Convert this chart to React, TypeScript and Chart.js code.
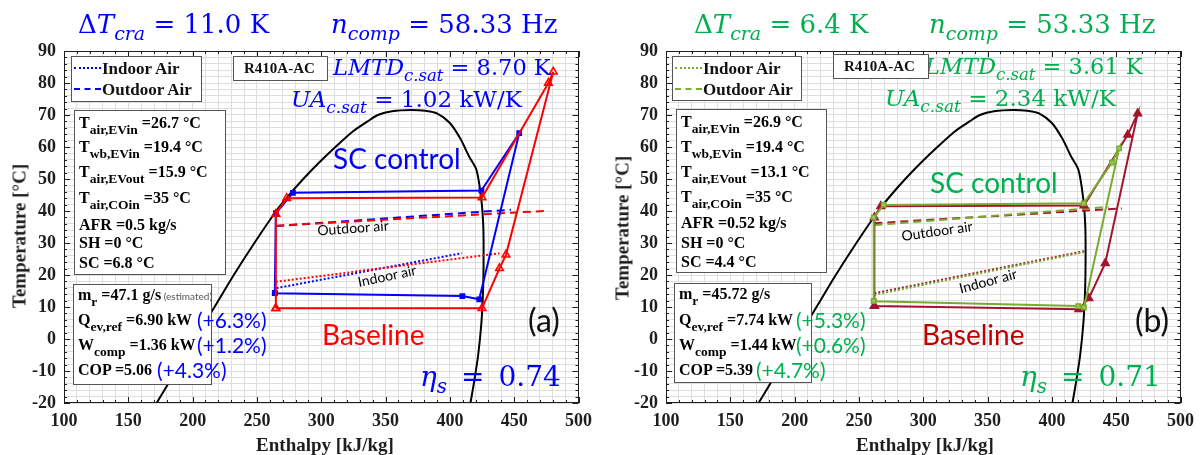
import React, { useEffect, useRef } from 'react';
import { Chart, registerables } from 'chart.js';

Chart.register(...registerables);

// ---------- axes ----------
const H_MIN = 100;
const H_MAX = 500;
const T_MIN = -20;
const T_MAX = 90;
const X_MAJOR = 50;
const Y_MAJOR = 10;
const X_MINOR = 10;
const Y_MINOR = 2;
const xTickLabels = [100, 150, 200, 250, 300, 350, 400, 450, 500];
const yTickLabels = [-20, -10, 0, 10, 20, 30, 40, 50, 60, 70, 80, 90];
const xTitle = 'Enthalpy [kJ/kg]';
const yTitle = 'Temperature [°C]';

// ---------- R410A saturation dome ----------
const domeH = [172, 187, 202, 217, 232, 248, 265, 275, 286, 298, 311, 325, 336, 344, 355, 370, 381, 390, 400, 408, 415, 420.7, 424.5, 426, 426.2, 425.8, 424.5, 422, 419, 416];
const domeT = [-20, -10, 0, 10, 20, 30, 40, 45, 50, 55, 60, 65, 68, 70, 71.2, 71.6, 71.3, 70.5, 67.5, 62.7, 57, 52.8, 43.4, 35, 25, 15, 5, -5, -13, -20];

// ---------- panel (a) ----------
const aBaseH = [264.7, 425, 438.6, 443.6, 480.4, 476.6, 425, 273.1, 264.7, 264.7];
const aBaseT = [9.6, 9.6, 22.1, 26.3, 83.5, 80, 44.2, 44, 39.1, 9.6];
const aScH = [263.9, 409.7, 422.8, 453.9, 424.5, 278, 264.7, 263.9];
const aScT = [14.3, 13.4, 12.4, 64.3, 46.4, 45.7, 39.3, 14.3];
const aOutBaseH = [265, 477];
const aOutBaseT = [35.4, 40.1];
const aOutScH = [265, 447.5];
const aOutScT = [35.3, 40.4];
const aInBaseH = [264.7, 438.6];
const aInBaseT = [17.9, 26.8];
const aInScH = [265.2, 409.2];
const aInScT = [15.9, 26.8];

// ---------- panel (b) ----------
const bBaseH = [262, 421, 428.7, 441.5, 466.7, 459, 425, 267, 262, 262];
const bBaseT = [10.3, 9.3, 12.7, 23.7, 70.5, 63.8, 41.7, 41.5, 38, 10.3];
const bScH = [261.5, 420.5, 425, 452.3, 446.7, 424.8, 269.2, 261.5, 261.5];
const bScT = [11.8, 10.3, 9.9, 59.6, 55.1, 42.4, 41.9, 38, 11.8];
const bOutBaseH = [262, 454.4];
const bOutBaseT = [36.2, 40.8];
const bOutScH = [262, 444.1];
const bOutScT = [35.6, 41.3];
const bInBaseH = [262, 425.6];
const bInBaseT = [14.3, 27.5];
const bInScH = [262, 425.6];
const bInScT = [13.8, 27.2];

// ---------- styles ----------
const BLUE = '#0000ff';
const RED = '#ff0000';
const GREEN_L = '#77ac30';
const DRED_L = '#a2142f';
const GREEN_T = '#00b050';
const DRED_T = '#c00000';
const AXIS_C = '#1e1e1e';
const GRID_C = '#dedede';

const FAM: Record<string, string> = {
  serif: '"Liberation Serif", "Times New Roman", serif',
  math: '"DejaVu Serif", serif',
  sans: 'Lato, "Open Sans", sans-serif',
};
const ASC: Record<string, number> = { serif: 0.8375, math: 0.846, sans: 0.887 };

const pts = (hs: number[], ts: number[]) => hs.map((h, i) => ({ x: h, y: ts[i] }));

const framePlugin = {
  id: 'frameTicks',
  afterDraw(chart: any) {
    const { ctx, chartArea: a } = chart;
    const xs = chart.scales.x;
    const ys = chart.scales.y;
    ctx.save();
    ctx.strokeStyle = AXIS_C;
    ctx.lineWidth = 1;
    ctx.beginPath();
    for (let v = H_MIN; v <= H_MAX + 1e-9; v += X_MINOR) {
      const px = Math.round(xs.getPixelForValue(v)) + 0.5;
      const len = (v - H_MIN) % X_MAJOR === 0 ? 6 : 3;
      ctx.moveTo(px, a.bottom);
      ctx.lineTo(px, a.bottom - len);
      ctx.moveTo(px, a.top);
      ctx.lineTo(px, a.top + len);
    }
    for (let v = T_MIN; v <= T_MAX + 1e-9; v += Y_MINOR) {
      const py = Math.round(ys.getPixelForValue(v)) + 0.5;
      const len = (v - T_MIN) % Y_MAJOR === 0 ? 6 : 3;
      ctx.moveTo(a.left, py);
      ctx.lineTo(a.left + len, py);
      ctx.moveTo(a.right, py);
      ctx.lineTo(a.right - len, py);
    }
    ctx.stroke();
    ctx.strokeRect(Math.round(a.left) + 0.5, Math.round(a.top) + 0.5, Math.round(a.right - a.left) - 1, Math.round(a.bottom - a.top) - 1);
    ctx.restore();
  },
};

function lineDs(data: any[], color: string, dash: number[], width = 2) {
  return { data, showLine: true, borderColor: color, borderWidth: width, borderDash: dash, pointRadius: 0, fill: false };
}
function cycleDs(data: any[], color: string, style: string, radius: number, bg: string) {
  return {
    data, showLine: true, borderColor: color, borderWidth: 2, pointStyle: style, pointRadius: radius,
    pointBackgroundColor: bg, pointBorderColor: color, pointBorderWidth: 1.5, fill: false,
  };
}

function buildConfig(datasets: any[], yWidth: number, padRight: number) {
  const tickFont = { family: FAM.serif, size: 18, weight: 'bold' as const };
  return {
    type: 'scatter' as const,
    data: { datasets },
    options: {
      responsive: false,
      maintainAspectRatio: false,
      animation: false as const,
      layout: { padding: { left: 0, right: padRight, top: 51, bottom: 0 } },
      plugins: { legend: { display: false }, tooltip: { enabled: false } },
      scales: {
        x: {
          type: 'linear' as const, min: H_MIN, max: H_MAX,
          afterFit: (s: any) => { s.height = 52; },
          ticks: {
            stepSize: X_MINOR, autoSkip: false, maxRotation: 0, minRotation: 0, maxTicksLimit: 1000, padding: 8,
            font: tickFont, color: AXIS_C,
            callback: (v: number) => (xTickLabels.includes(Math.round(v)) && Math.abs(v - Math.round(v)) < 1e-6 ? String(Math.round(v)) : ''),
          },
          grid: { color: GRID_C, drawTicks: false },
          border: { display: false },
          title: { display: false },
        },
        y: {
          type: 'linear' as const, min: T_MIN, max: T_MAX,
          afterFit: (s: any) => { s.width = yWidth; },
          ticks: {
            stepSize: Y_MINOR, autoSkip: false, maxTicksLimit: 1000, padding: 8,
            font: tickFont, color: AXIS_C,
            callback: (v: number) => (yTickLabels.includes(Math.round(v)) && Math.abs(v - Math.round(v)) < 1e-6 ? String(Math.round(v)) : ''),
          },
          grid: { color: GRID_C, drawTicks: false },
          border: { display: false },
          title: { display: false },
        },
      },
    },
    plugins: [framePlugin],
  };
}

function ChartCanvas({ left, width, datasets, yWidth, padRight }: any) {
  const ref = useRef<HTMLCanvasElement>(null);
  useEffect(() => {
    const chart = new Chart(ref.current as HTMLCanvasElement, buildConfig(datasets, yWidth, padRight) as any);
    return () => chart.destroy();
  }, []);
  return (
    <canvas ref={ref} width={width} height={455}
      style={{ position: 'absolute', left, top: 0, width, height: 455 }} />
  );
}

function Tx({ x, base, size, fam, color = '#000', bold = false, children }: any) {
  return (
    <div style={{
      position: 'absolute', left: x, top: base - size * ASC[fam], fontFamily: FAM[fam], fontSize: size,
      lineHeight: `${size}px`, fontWeight: bold ? 'bold' : 'normal', color, whiteSpace: 'nowrap',
    }}>{children}</div>
  );
}
function Sb({ size, drop, italic = false, children }: any) {
  return <span style={{ fontSize: size, verticalAlign: `-${drop}px`, fontStyle: italic ? 'italic' : 'normal', lineHeight: '0px' }}>{children}</span>;
}
function Rot({ cx, cy, deg, size = 14, fam = 'sans', bold = false, color = '#000', children }: any) {
  return (
    <div style={{
      position: 'absolute', left: cx, top: cy, transform: `translate(-50%, -50%) rotate(${deg}deg)`,
      fontFamily: FAM[fam], fontSize: size, fontWeight: bold ? 'bold' : 'normal', color, whiteSpace: 'nowrap', lineHeight: `${size}px`,
    }}>{children}</div>
  );
}
function Box({ x, y, w, h, children }: any) {
  return <div style={{ position: 'absolute', left: x, top: y, width: w, height: h, border: '1px solid #555', background: '#fff', boxSizing: 'border-box' }}>{children}</div>;
}

function Legend({ x, y, w, h, color }: any) {
  return (
    <>
      <Box x={x} y={y} w={w} h={h} />
      <div style={{ position: 'absolute', left: x + 3, top: y + 11, width: 27, borderTop: `2px dotted ${color}` }} />
      <div style={{ position: 'absolute', left: x + 3, top: y + 32, width: 27, borderTop: `2px dashed ${color}` }} />
      <Tx x={x + 31} base={y + 18} size={17} fam="serif" bold color="#111">Indoor Air</Tx>
      <Tx x={x + 31} base={y + 39} size={17} fam="serif" bold color="#111">Outdoor Air</Tx>
    </>
  );
}

function InfoBox({ x, y, w, h, bases, vals }: any) {
  const lx = x + 5;
  const sub = (t: string) => <Sb size={13.5} drop={6}>{t}</Sb>;
  return (
    <>
      <Box x={x} y={y} w={w} h={h} />
      <Tx x={lx} base={bases[0]} size={16} fam="serif" bold>T{sub('air,EVin')} ={vals[0]} °C</Tx>
      <Tx x={lx} base={bases[1]} size={16} fam="serif" bold>T{sub('wb,EVin')} ={vals[1]} °C</Tx>
      <Tx x={lx} base={bases[2]} size={16} fam="serif" bold>T{sub('air,EVout')} ={vals[2]} °C</Tx>
      <Tx x={lx} base={bases[3]} size={16} fam="serif" bold>T{sub('air,COin')} ={vals[3]} °C</Tx>
      <Tx x={lx} base={bases[4]} size={16} fam="serif" bold>AFR ={vals[4]} kg/s</Tx>
      <Tx x={lx} base={bases[5]} size={16} fam="serif" bold>SH ={vals[5]} °C</Tx>
      <Tx x={lx} base={bases[6]} size={16} fam="serif" bold>SC ={vals[6]} °C</Tx>
    </>
  );
}

function ResultBox({ x, y, w, h, bases, vals, est }: any) {
  const lx = x + 5;
  const sub = (t: string) => <Sb size={13.5} drop={6}>{t}</Sb>;
  return (
    <>
      <Box x={x} y={y} w={w} h={h} />
      <Tx x={lx} base={bases[0]} size={16} fam="serif" bold>m{sub('r')} ={vals[0]} g/s{est ? <span style={{ fontFamily: FAM.sans, fontWeight: 'normal', fontSize: 10, color: '#555' }}> (estimated)</span> : null}</Tx>
      <Tx x={lx} base={bases[1]} size={16} fam="serif" bold>Q{sub('ev,ref')} ={vals[1]} kW</Tx>
      <Tx x={lx} base={bases[2]} size={16} fam="serif" bold>W{sub('comp')} ={vals[2]} kW</Tx>
      <Tx x={lx} base={bases[3]} size={16} fam="serif" bold>COP ={vals[3]}</Tx>
    </>
  );
}

function MathHeader({ x, base, size, color, children }: any) {
  return <Tx x={x} base={base} size={size} fam="math" color={color}>{children}</Tx>;
}
const MS = ({ children, size }: any) => <Sb size={size} drop={Math.round(size * 0.35)} italic>{children}</Sb>;

export default function App() {
  const dsA = [
    cycleDs(pts(aBaseH, aBaseT), RED, 'triangle', 4.5, 'rgba(255,255,255,0)'),
    cycleDs(pts(aScH, aScT), BLUE, 'rect', 3, BLUE),
    lineDs(pts(aOutBaseH, aOutBaseT), RED, [8, 5]),
    lineDs(pts(aOutScH, aOutScT), BLUE, [8, 5]),
    lineDs(pts(aInBaseH, aInBaseT), RED, [2, 2]),
    lineDs(pts(aInScH, aInScT), BLUE, [2, 2]),
    { ...lineDs(pts(domeH, domeT), '#000', []), tension: 0.3 },
  ];
  const dsB = [
    cycleDs(pts(bScH, bScT), GREEN_L, 'rect', 3, '#9ccc5a'),
    cycleDs(pts(bBaseH, bBaseT), DRED_L, 'triangle', 4.5, DRED_L),
    lineDs(pts(bOutScH, bOutScT), GREEN_L, [8, 5]),
    lineDs(pts(bOutBaseH, bOutBaseT), DRED_L, [8, 5]),
    lineDs(pts(bInScH, bInScT), GREEN_L, [2, 2]),
    lineDs(pts(bInBaseH, bInBaseT), DRED_L, [2, 2]),
    { ...lineDs(pts(domeH, domeT), '#000', []), tension: 0.3 },
  ];

  return (
    <div style={{ position: 'absolute', left: 0, top: 0, width: 1202, height: 455, background: '#fff', overflow: 'hidden' }}>
      <ChartCanvas left={0} width={600} datasets={dsA} yWidth={64} padRight={13} />
      <ChartCanvas left={600} width={602} datasets={dsB} yWidth={66} padRight={15} />

      {/* axis titles */}
      <Rot cx={325} cy={444} deg={0} size={19} fam="serif" bold color={AXIS_C}>{xTitle}</Rot>
      <Rot cx={19} cy={236} deg={-90} size={19} fam="serif" bold color={AXIS_C}>{yTitle}</Rot>
      <Rot cx={925} cy={444} deg={0} size={19} fam="serif" bold color={AXIS_C}>{xTitle}</Rot>
      <Rot cx={622} cy={228} deg={-90} size={19} fam="serif" bold color={AXIS_C}>{yTitle}</Rot>

      {/* ---------- panel (a) overlays ---------- */}
      <MathHeader x={78} base={33} size={26} color={BLUE}>Δ<i>T</i><MS size={19}>cra</MS> = 11.0 K</MathHeader>
      <MathHeader x={331} base={33} size={26} color={BLUE}><i>n</i><MS size={19}>comp</MS> = 58.33 Hz</MathHeader>
      <MathHeader x={333} base={75} size={22.5} color={BLUE}><i>LMTD</i><MS size={16.5}>c.sat</MS> = 8.70 K</MathHeader>
      <MathHeader x={291} base={107} size={23} color={BLUE}><i>UA</i><MS size={17}>c.sat</MS> = 1.02 kW/K</MathHeader>

      <Legend x={71} y={56} w={131} h={46} color={BLUE} />
      <Box x={233} y={56} w={95} h={25} />
      <Tx x={244} base={74} size={15} fam="serif" bold color="#111">R410A-AC</Tx>

      <InfoBox x={74} y={110} w={152} h={165} bases={[128.5, 152, 177, 203.5, 230, 248.5, 268.5]}
        vals={['26.7', '19.4', '15.9', '35', '0.5', '0', '6.8']} />
      <ResultBox x={73} y={284} w={139} h={101} bases={[300.5, 325.5, 350, 375.5]}
        vals={['47.1', '6.90', '1.36', '5.06']} est />
      <Tx x={197} base={328} size={21} fam="sans" color={BLUE}>(+6.3%)</Tx>
      <Tx x={197} base={353} size={21} fam="sans" color={BLUE}>(+1.2%)</Tx>
      <Tx x={157} base={378} size={21} fam="sans" color={BLUE}>(+4.3%)</Tx>

      <Tx x={333} base={169} size={28} fam="sans" color={BLUE}>SC control</Tx>
      <Tx x={322} base={345} size={28} fam="sans" color={RED}>Baseline</Tx>
      <Tx x={528} base={332} size={32} fam="sans" color="#111">(a)</Tx>
      <MathHeader x={420} base={387} size={28} color={BLUE}><i>η</i><MS size={20}>s</MS>{'\u2002=\u2002'}0.74</MathHeader>
      <Rot cx={353} cy={228} deg={-4}>Outdoor air</Rot>
      <Rot cx={387} cy={276} deg={-12}>Indoor air</Rot>

      {/* ---------- panel (b) overlays ---------- */}
      <MathHeader x={694} base={33} size={26} color={GREEN_T}>Δ<i>T</i><MS size={19}>cra</MS> = 6.4 K</MathHeader>
      <MathHeader x={929} base={33} size={26} color={GREEN_T}><i>n</i><MS size={19}>comp</MS> = 53.33 Hz</MathHeader>
      <MathHeader x={925} base={74} size={22.5} color={GREEN_T}><i>LMTD</i><MS size={16.5}>c.sat</MS> = 3.61 K</MathHeader>
      <MathHeader x={885} base={106} size={23} color={GREEN_T}><i>UA</i><MS size={17}>c.sat</MS> = 2.34 kW/K</MathHeader>

      <Legend x={672} y={56} w={130} h={45} color={GREEN_L} />
      <Box x={833} y={54} w={96} h={25} />
      <Tx x={844} base={72} size={15} fam="serif" bold color="#111">R410A-AC</Tx>

      <InfoBox x={676} y={109} w={151} h={164} bases={[127, 152, 177, 202, 228.5, 248.5, 267]}
        vals={['26.9', '19.4', '13.1', '35', '0.52', '0', '4.4']} />
      <ResultBox x={674} y={283} w={138} h={100} bases={[299, 325, 350, 375]}
        vals={['45.72', '7.74', '1.44', '5.39']} />
      <Tx x={796} base={328} size={21} fam="sans" color={GREEN_T}>(+5.3%)</Tx>
      <Tx x={796} base={353} size={21} fam="sans" color={GREEN_T}>(+0.6%)</Tx>
      <Tx x={756} base={378} size={21} fam="sans" color={GREEN_T}>(+4.7%)</Tx>

      <Tx x={930} base={193} size={28} fam="sans" color={GREEN_T}>SC control</Tx>
      <Tx x={922} base={345} size={28} fam="sans" color={DRED_T}>Baseline</Tx>
      <Tx x={1135} base={332} size={32} fam="sans" color="#111">(b)</Tx>
      <MathHeader x={1020} base={387} size={28} color={GREEN_T}><i>η</i><MS size={20}>s</MS>{'\u2002=\u2002'}0.71</MathHeader>
      <Rot cx={937} cy={231} deg={-8}>Outdoor air</Rot>
      <Rot cx={988} cy={281} deg={-15}>Indoor air</Rot>
    </div>
  );
}
